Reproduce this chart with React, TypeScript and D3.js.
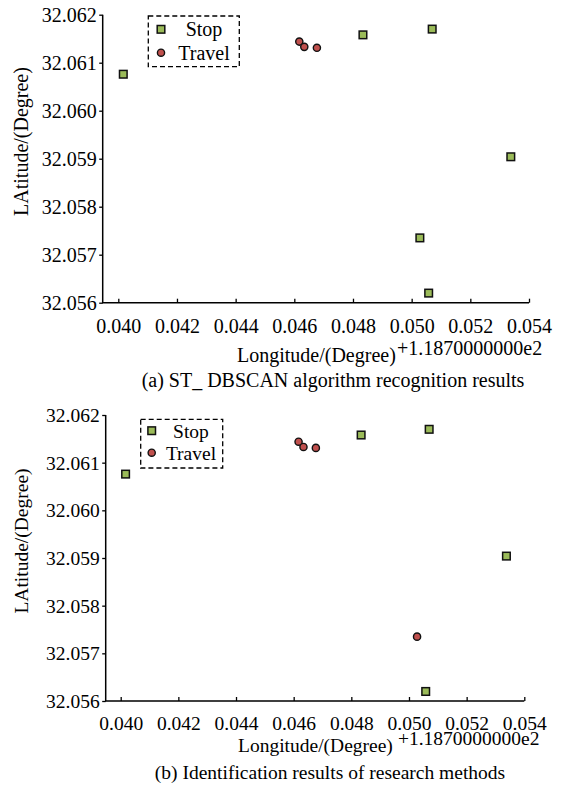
import React, { useEffect, useRef } from 'react';
import * as d3 from 'd3';

// tick values
const lonTicks = [0.040, 0.042, 0.044, 0.046, 0.048, 0.050, 0.052, 0.054];
const latTicks = [32.056, 32.057, 32.058, 32.059, 32.060, 32.061, 32.062];

// GPS points (longitude shown as offset from 118.7)
const pointLon = [0.04017, 0.04617, 0.04634, 0.04677, 0.04834, 0.05070, 0.05338, 0.05028, 0.05058];
const pointLat = [32.06076, 32.06144, 32.06133, 32.06131, 32.06158, 32.06170, 32.05904, 32.05735, 32.05620];

// class of every point in each panel
const classA = ['Stop', 'Travel', 'Travel', 'Travel', 'Stop', 'Stop', 'Stop', 'Stop', 'Stop'];
const classB = ['Stop', 'Travel', 'Travel', 'Travel', 'Stop', 'Stop', 'Stop', 'Travel', 'Stop'];

const legendItems = ['Stop', 'Travel'];
const xTitle = 'Longitude/(Degree)';
const yTitle = 'LAtitude/(Degree)';
const offsetText = '+1.1870000000e2';
const captionA = '(a) ST_ DBSCAN algorithm recognition results';
const captionB = '(b) Identification results of research methods';

const FONT = '"Liberation Serif", "Times New Roman", Times, serif';
const STOP_FILL = '#9bbb59';
const TRAVEL_FILL = '#c0504d';

function drawMarker(g, kind, cx, cy) {
    if (kind === 'Stop') {
        g.append('rect')
            .attr('x', cx - 3.8).attr('y', cy - 3.8)
            .attr('width', 7.6).attr('height', 7.6)
            .attr('fill', STOP_FILL)
            .attr('stroke', '#111').attr('stroke-width', 1.5);
    } else {
        g.append('circle')
            .attr('cx', cx).attr('cy', cy).attr('r', 3.6)
            .attr('fill', TRAVEL_FILL)
            .attr('stroke', '#111').attr('stroke-width', 1.4);
    }
}

function drawPanel(svg, p) {
    const g = svg.append('g');
    const x = d3.scaleLinear().domain([0.040, 0.054]).range([p.x0, p.x1]);
    const y = d3.scaleLinear().domain([32.056, 32.062]).range([p.y0, p.y1]);

    // x axis, ticks pointing inward
    const xg = g.append('g')
        .attr('transform', `translate(0,${p.y0})`)
        .call(d3.axisBottom(x).tickValues(lonTicks).tickSizeInner(-4).tickSizeOuter(0).tickFormat(d3.format('.3f')));
    xg.select('.domain').remove();
    xg.attr('font-family', FONT).attr('font-size', p.fs);
    xg.selectAll('line').attr('stroke', '#000').attr('stroke-width', 1.3);
    xg.selectAll('text').attr('y', p.xTickDy).attr('dy', 0).attr('fill', '#000');

    // y axis, ticks pointing outward
    const yg = g.append('g')
        .attr('transform', `translate(${p.left},0)`)
        .call(d3.axisLeft(y).tickValues(latTicks).tickSizeInner(3.5).tickSizeOuter(0).tickPadding(2.5).tickFormat(d3.format('.3f')));
    yg.select('.domain').remove();
    yg.attr('font-family', FONT).attr('font-size', p.fs);
    yg.selectAll('line').attr('stroke', '#000').attr('stroke-width', 1.3);
    yg.selectAll('text').attr('dy', '0.34em').attr('fill', '#000');

    g.append('path')
        .attr('d', `M${p.left},${y(32.062)}V${p.y0}H${x(0.054)}`)
        .attr('fill', 'none').attr('stroke', '#000').attr('stroke-width', 1.5);

    // points
    const pg = g.append('g');
    pointLon.forEach((lon, i) => {
        drawMarker(pg, p.classes[i], x(lon), y(pointLat[i]));
    });

    // legend
    const lg = g.append('g');
    lg.append('rect')
        .attr('x', p.legend.x).attr('y', p.legend.y)
        .attr('width', p.legend.w).attr('height', p.legend.h)
        .attr('fill', '#fff').attr('stroke', '#000')
        .attr('stroke-width', 1.3).attr('stroke-dasharray', '5,3');
    legendItems.forEach((name, i) => {
        const cy = p.legend.y + p.legend.row0 + i * p.legend.step;
        drawMarker(lg, name, p.legend.x + p.legend.mx, cy);
        lg.append('text')
            .attr('x', p.legend.tx).attr('y', cy + 7)
            .attr('text-anchor', 'middle')
            .attr('font-family', FONT).attr('font-size', p.fs)
            .text(name);
    });

    // titles
    g.append('text')
        .attr('x', p.xTitleX).attr('y', p.xTitleY)
        .attr('font-family', FONT).attr('font-size', p.fs)
        .text(xTitle);
    g.append('text')
        .attr('x', p.offX).attr('y', p.offY)
        .attr('font-family', FONT).attr('font-size', p.fs)
        .text(offsetText);
    g.append('text')
        .attr('transform', `translate(28,${p.yTitleY}) rotate(-90)`)
        .attr('text-anchor', 'middle')
        .attr('font-family', FONT).attr('font-size', p.fs)
        .text(yTitle);
    g.append('text')
        .attr('x', p.capX).attr('y', p.capY)
        .attr('text-anchor', 'middle')
        .attr('font-family', FONT).attr('font-size', p.fs)
        .text(p.caption);
}

export default function App() {
    const ref = useRef(null);

    useEffect(() => {
        const svg = d3.select(ref.current);
        svg.selectAll('*').remove();

        drawPanel(svg, {
            x0: 118.3, x1: 529, y0: 302.7, y1: 14.7, left: 102.7, fs: 20,
            xTickDy: 30, classes: classA,
            legend: { x: 148.3, y: 16, w: 91, h: 50.7, mx: 12.7, row0: 13.3, step: 23.4, tx: 204 },
            xTitleX: 237, xTitleY: 362, offX: 397, offY: 355,
            yTitleY: 141.5, capX: 333, capY: 387, caption: captionA
        });

        drawPanel(svg, {
            x0: 120.7, x1: 524.3, y0: 701, y1: 415, left: 105.7, fs: 19.5,
            xTickDy: 29, classes: classB,
            legend: { x: 140.7, y: 419.3, w: 82, h: 48.7, mx: 11, row0: 11.4, step: 22, tx: 191 },
            xTitleX: 238, xTitleY: 752, offX: 398, offY: 745,
            yTitleY: 541, capX: 330, capY: 779, caption: captionB
        });
    }, []);

    return (
        <svg ref={ref} width={562} height={789}
            style={{ position: 'absolute', left: 0, top: 0, background: '#fff' }} />
    );
}
